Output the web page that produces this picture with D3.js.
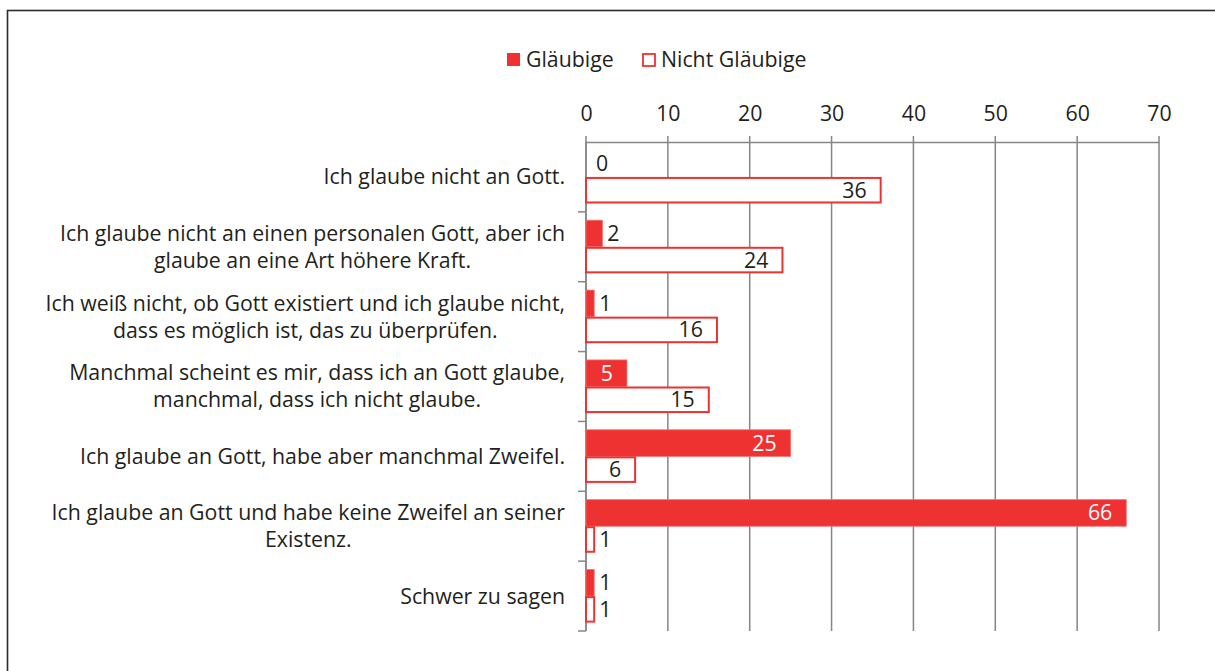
<!DOCTYPE html>
<html>
<head>
<meta charset="utf-8">
<script src="https://cdn.jsdelivr.net/npm/d3@7"></script>
<style>
  body { margin: 0; background: #fff; }
  text { font-family: "Open Sans", "Noto Sans", sans-serif; fill: #231f20; }
</style>
</head>
<body>
<svg id="chart" width="1215" height="671"></svg>
<script>
const categories = [
  ["Ich glaube nicht an Gott."],
  ["Ich glaube nicht an einen personalen Gott, aber ich", "glaube an eine Art höhere Kraft."],
  ["Ich weiß nicht, ob Gott existiert und ich glaube nicht,", "dass es möglich ist, das zu überprüfen."],
  ["Manchmal scheint es mir, dass ich an Gott glaube,", "manchmal, dass ich nicht glaube."],
  ["Ich glaube an Gott, habe aber manchmal Zweifel."],
  ["Ich glaube an Gott und habe keine Zweifel an seiner", "Existenz."],
  ["Schwer zu sagen"]
];
const seriesNames = ["Gläubige", "Nicht Gläubige"];
const glaeubige = [0, 2, 1, 5, 25, 66, 1];
const nichtGlaeubige = [36, 24, 16, 15, 6, 1, 1];
const xTicks = [0, 10, 20, 30, 40, 50, 60, 70];

const red = "#ee3232";
const grid = "#868686";
const fontSize = 21.3;
const svg = d3.select("#chart");

// frame (only top & left edges fall inside the picture)
svg.append("rect")
  .attr("x", 7.5).attr("y", 10.5)
  .attr("width", 1300).attr("height", 800)
  .attr("fill", "none").attr("stroke", "#2b2b2b").attr("stroke-width", 1.6);

const plotTop = 142, plotBottom = 631;
const x = d3.scaleLinear().domain([0, 70]).range([586, 1159]);
const keys = categories.map((d, i) => i);
const y0 = d3.scaleBand().domain(keys).range([plotTop, plotBottom]).paddingInner(0.24).paddingOuter(0.12);
const y1 = d3.scaleBand().domain(seriesNames).range([0, y0.bandwidth()]);

// gridlines
svg.append("g").selectAll("line")
  .data(xTicks)
  .enter()
  .append("line")
  .attr("x1", (d) => x(d)).attr("x2", (d) => x(d))
  .attr("y1", plotTop - 6).attr("y2", plotBottom)
  .attr("stroke", grid).attr("stroke-width", 1.5);

// top axis
const xAxis = svg.append("g")
  .attr("transform", `translate(0,${plotTop})`)
  .call(d3.axisTop(x).tickValues(xTicks).tickSize(0).tickSizeOuter(0).tickPadding(21));
xAxis.select(".domain").attr("stroke", grid).attr("stroke-width", 1.5);
xAxis.selectAll("text")
  .attr("font-size", fontSize).attr("fill", "#231f20")
  .style("font-family", '"Open Sans", sans-serif');

// vertical axis with category tick marks
svg.append("line")
  .attr("x1", x(0)).attr("x2", x(0)).attr("y1", plotTop).attr("y2", plotBottom)
  .attr("stroke", grid).attr("stroke-width", 1.5);
const bounds = keys.map((k) => y0(k) - y0.step() * y0.paddingInner() / 2).slice(1).concat([plotBottom]);
svg.append("g").selectAll("line")
  .data(bounds)
  .enter()
  .append("line")
  .attr("x1", x(0) - 8).attr("x2", x(0))
  .attr("y1", (d) => d).attr("y2", (d) => d)
  .attr("stroke", grid).attr("stroke-width", 1.5);

// category labels: block right-aligned, lines centered within block
const lineH = 27;
categories.forEach((lines, i) => {
  const g = svg.append("g");
  const cy = y0(i) + y0.bandwidth() / 2;
  const texts = lines.map((t, j) =>
    g.append("text")
      .attr("font-size", fontSize)
      .attr("text-anchor", "middle")
      .attr("y", cy + (j - (lines.length - 1) / 2) * lineH)
      .attr("dy", "0.35em")
      .text(t)
  );
  const w = d3.max(texts, (t) => t.node().getComputedTextLength());
  texts.forEach((t) => t.attr("x", 565 - w / 2));
});

// bars
const rows = keys.map((i) => ({ i, values: [glaeubige[i], nichtGlaeubige[i]] }));
const groups = svg.append("g").selectAll("g")
  .data(rows)
  .enter()
  .append("g")
  .attr("transform", (d) => `translate(0,${y0(d.i)})`);

groups.selectAll("rect")
  .data((d) => d.values.map((v, s) => ({ v, s })))
  .enter()
  .append("rect")
  .attr("x", x(0))
  .attr("y", (d) => y1(seriesNames[d.s]) + (d.s === 1 ? 1 : 0))
  .attr("width", (d) => x(d.v) - x(0))
  .attr("height", (d) => y1.bandwidth() - (d.s === 1 ? 2 : 0))
  .attr("fill", (d) => (d.s === 0 ? red : "#fff"))
  .attr("stroke", (d) => (d.s === 0 ? "#f46a6a" : red))
  .attr("stroke-width", (d) => (d.s === 0 ? 0.8 : 2));

// value labels: inside end if room, else outside end
groups.selectAll("text.val")
  .data((d) => d.values.map((v, s) => ({ v, s })))
  .enter()
  .append("text")
  .attr("class", "val")
  .attr("font-size", fontSize)
  .attr("dy", "0.35em")
  .attr("y", (d) => y1(seriesNames[d.s]) + y1.bandwidth() / 2)
  .attr("x", (d) => {
    const w = x(d.v) - x(0);
    if (d.v === 0) return x(d.v) + 10;
    return w > 30 ? x(d.v) - 14 : x(d.v) + 5;
  })
  .attr("text-anchor", (d) => (x(d.v) - x(0) > 30 ? "end" : "start"))
  .style("fill", (d) => (d.s === 0 && x(d.v) - x(0) > 30 ? "#fff" : "#231f20"))
  .text((d) => d.v);

// legend
const legend = svg.append("g");
const lx = [507, 642];
seriesNames.forEach((name, s) => {
  legend.append("rect")
    .attr("x", lx[s] + (s === 1 ? 1 : 0)).attr("y", 53 + (s === 1 ? 1 : 0))
    .attr("width", s === 1 ? 12 : 13).attr("height", s === 1 ? 12 : 13)
    .attr("fill", s === 0 ? red : "#fff")
    .attr("stroke", s === 0 ? "none" : red)
    .attr("stroke-width", 1.8);
  legend.append("text")
    .attr("x", lx[s] + 19).attr("y", 60)
    .attr("dy", "0.35em")
    .attr("font-size", fontSize)
    .text(name);
});
</script>
</body>
</html>
